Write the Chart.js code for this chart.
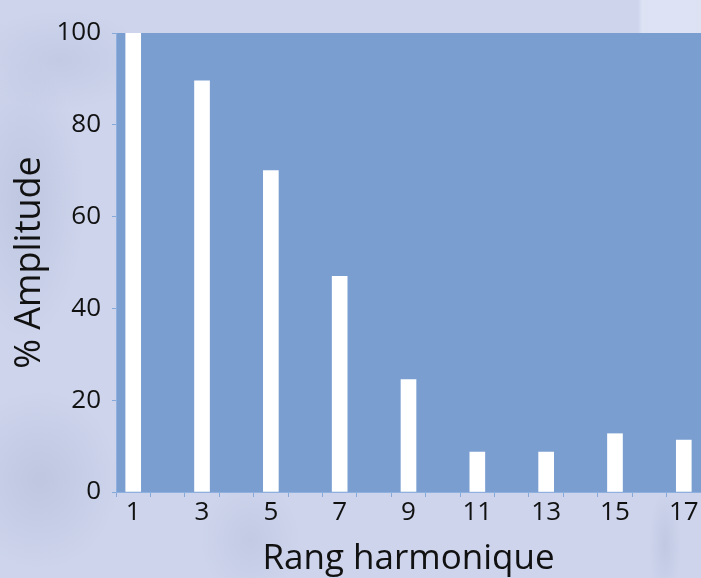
<!DOCTYPE html>
<html>
<head>
<meta charset="utf-8">
<script src="https://cdn.jsdelivr.net/npm/chart.js@4/dist/chart.umd.min.js"></script>
<style>
  html, body { margin: 0; padding: 0; }
  body {
    width: 701px; height: 578px; overflow: hidden;
    background:
      linear-gradient(90deg, rgba(255,255,255,0) 0, rgba(255,255,255,0) 638px, rgba(240,244,252,0.45) 642px, rgba(240,244,252,0.45) 100%) top / 100% 34px no-repeat,
      radial-gradient(ellipse 60px 140px at 25px 200px, rgba(150,160,190,0.25), rgba(150,160,190,0) 100%),
      radial-gradient(ellipse 80px 90px at 40px 480px, rgba(150,160,190,0.25), rgba(150,160,190,0) 100%),
      radial-gradient(ellipse 50px 60px at 250px 540px, rgba(150,160,190,0.18), rgba(150,160,190,0) 100%),
      radial-gradient(ellipse 16px 55px at 665px 545px, rgba(140,150,180,0.18), rgba(140,150,180,0) 100%),
      radial-gradient(ellipse 90px 50px at 60px 60px, rgba(150,160,190,0.18), rgba(150,160,190,0) 100%),
      #cdd4ec;
  }
  #wrap { position: relative; width: 701px; height: 578px; }
</style>
</head>
<body>
<div id="wrap"><canvas id="chart" width="701" height="578"></canvas></div>
<script>
// Harmonic spectrum of a square-ish signal: only odd ranks carry energy.
const categories = ['1','2','3','4','5','6','7','8','9','10','11','12','13','14','15','16','17'];
const amplitude  = [100, null, 89.6, null, 70, null, 47, null, 24.5, null, 8.7, null, 8.7, null, 12.7, null, 11.3];
const yTicks     = [0, 20, 40, 60, 80, 100];
const xTickShown = ['1','3','5','7','9','11','13','15','17'];

const textFont = "'Open Sans', Lato, sans-serif";
const plotBlue = '#7a9ed0';
const tickBlue = '#86a9da';

// Fill the plotting rectangle before anything else is drawn.
const plotBackground = {
  id: 'plotBackground',
  beforeDraw(chart) {
    const { ctx, chartArea: a } = chart;
    ctx.save();
    ctx.fillStyle = plotBlue;
    ctx.fillRect(a.left, a.top, a.right - a.left, a.bottom - a.top);
    ctx.restore();
  }
};

new Chart(document.getElementById('chart'), {
  type: 'bar',
  data: {
    labels: categories,
    datasets: [{
      data: amplitude,
      backgroundColor: '#ffffff',
      borderWidth: 0,
      barThickness: 15
    }]
  },
  options: {
    responsive: false,
    animation: false,
    layout: { padding: { top: 33, right: 0, bottom: 0, left: 0 } },
    plugins: { legend: { display: false }, tooltip: { enabled: false } },
    scales: {
      x: {
        offset: true,
        grid: {
          offset: true,
          drawOnChartArea: false,
          drawTicks: true,
          tickLength: 5,
          color: tickBlue,
          lineWidth: 1
        },
        border: { display: true, color: '#8fb0de', width: 1 },
        ticks: {
          color: '#111111',
          font: { family: textFont, size: 26 },
          padding: 0,
          maxRotation: 0,
          autoSkip: false,
          callback(value) {
            const lbl = categories[value];
            return xTickShown.includes(lbl) ? lbl : '';
          }
        },
        title: {
          display: true,
          text: 'Rang harmonique',
          color: '#111111',
          font: { family: textFont, size: 35 },
          padding: { top: 0, bottom: -2 }
        },
        afterFit(scale) { scale.height = 86; }
      },
      y: {
        min: 0,
        max: 100,
        afterBuildTicks(scale) { scale.ticks = yTicks.map(v => ({ value: v })); },
        grid: {
          drawOnChartArea: false,
          drawTicks: true,
          tickLength: 4,
          color: tickBlue
        },
        border: { display: true, color: '#8fb0de', width: 1 },
        ticks: {
          color: '#111111',
          font: { family: textFont, size: 26 },
          padding: 11
        },
        title: {
          display: true,
          text: '% Amplitude',
          color: '#111111',
          font: { family: textFont, size: 36 },
          padding: { top: 8, bottom: 0 }
        },
        afterFit(scale) { scale.width = 116; }
      }
    }
  },
  plugins: [plotBackground]
});
</script>
</body>
</html>
